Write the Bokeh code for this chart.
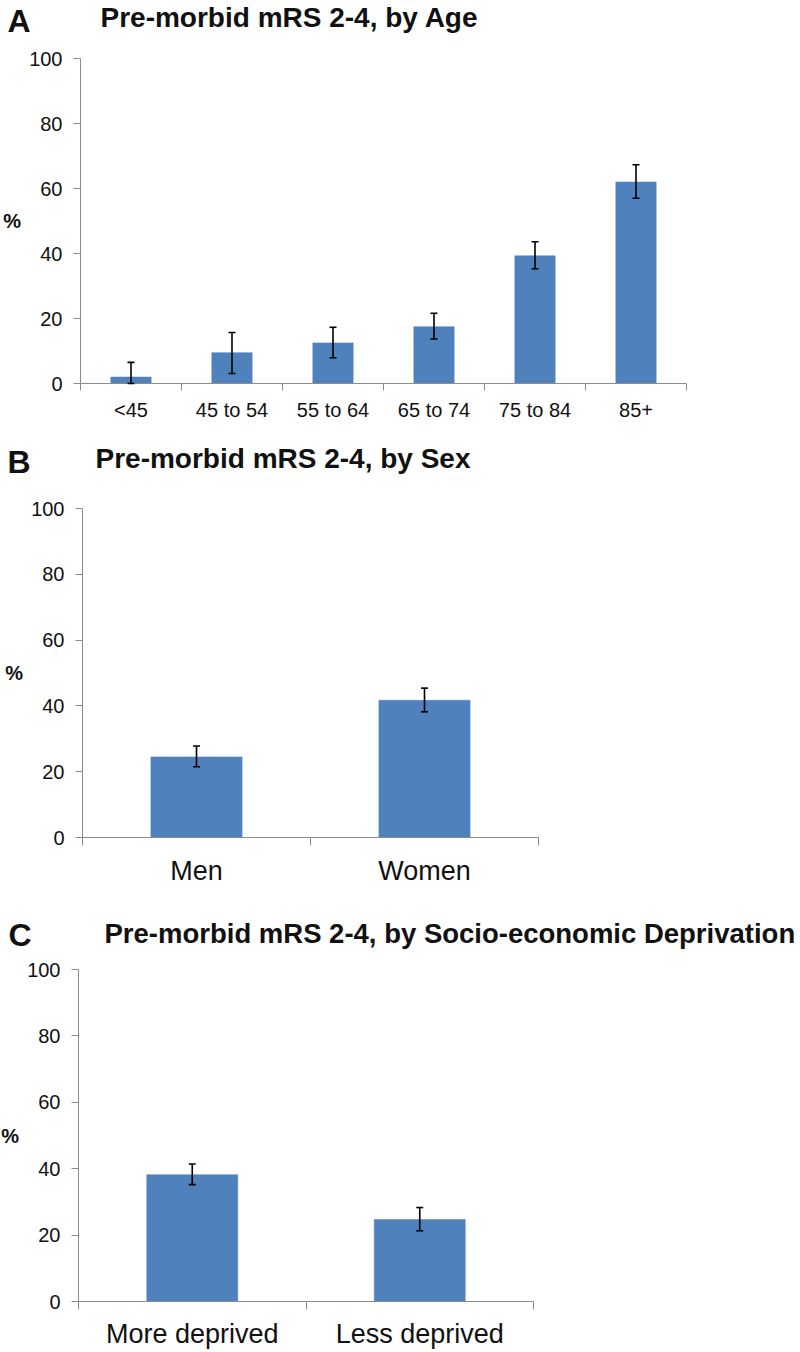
from bokeh.plotting import figure
from bokeh.models import (Range1d, FixedTicker, ColumnDataSource, Whisker, TeeHead, Label)
from bokeh.layouts import column
from bokeh.embed import file_html
from bokeh.resources import INLINE

# ---- data ----
age_groups = ["<45", "45 to 54", "55 to 64", "65 to 74", "75 to 84", "85+"]
age_pct = [2.0, 9.5, 12.5, 17.5, 39.3, 62.0]
age_lo = [0.0, 3.1, 7.9, 13.7, 35.3, 57.0]
age_hi = [6.5, 15.7, 17.3, 21.6, 43.6, 67.3]

sex_groups = ["Men", "Women"]
sex_pct = [24.5, 41.7]
sex_lo = [21.5, 38.2]
sex_hi = [27.8, 45.4]

dep_groups = ["More deprived", "Less deprived"]
dep_pct = [38.2, 24.7]
dep_lo = [35.2, 21.3]
dep_hi = [41.4, 28.3]

y_ticks = [0, 20, 40, 60, 80, 100]

FONT = "Liberation Sans"
BAR = "#4F81BD"
AXIS = "#8C8C8C"
TXT = "#111111"
W = 800


def panel(letter, title, cats, pct, lo, hi, *, h, fl, fr, py100, py0,
          xlab_size, xlab_standoff, xtick_len, letter_xy, title_xy, title_size):
    n = len(cats)
    centers = [i + 0.5 for i in range(n)]
    bounds = [float(i) for i in range(n + 1)]
    cw = (fr - fl) / n
    ppu = (py0 - py100) / 100.0
    xr = Range1d(-fl / cw, n + (W - fr) / cw)
    yr = Range1d(-(h - py0) / ppu, 100 + py100 / ppu)
    p = figure(width=W, height=h, output_backend="svg", toolbar_location=None,
               x_range=xr, y_range=yr,
               min_border=0, min_border_left=0, min_border_right=0,
               min_border_top=0, min_border_bottom=0)
    p.outline_line_color = None
    p.xgrid.visible = False
    p.ygrid.visible = False
    p.background_fill_color = "white"
    p.border_fill_color = "white"

    src = ColumnDataSource(dict(x=centers, top=pct, lo=lo, hi=hi, cat=cats))
    p.vbar(x="x", top="top", bottom=0, width=0.4, source=src,
           fill_color=BAR, line_color=BAR, line_width=0.5)
    w = Whisker(source=src, base="x", upper="hi", lower="lo",
                line_color="black", line_width=1.6, level="overlay",
                upper_head=TeeHead(size=7, line_color="black", line_width=1.6),
                lower_head=TeeHead(size=7, line_color="black", line_width=1.6))
    p.add_layout(w)

    # y axis (fixed at x = 0)
    ya = p.yaxis[0]
    ya.fixed_location = 0
    ya.bounds = (0, 100)
    ya.ticker = FixedTicker(ticks=y_ticks, minor_ticks=[])
    ya.axis_line_color = AXIS
    ya.major_tick_line_color = AXIS
    ya.major_tick_out = 7
    ya.major_tick_in = 0
    ya.minor_tick_line_color = None
    ya.major_label_text_font = FONT
    ya.major_label_text_font_size = "20px"
    ya.major_label_text_color = TXT
    ya.major_label_standoff = 11
    ya.axis_label = "%"
    ya.axis_label_orientation = "horizontal"
    ya.axis_label_text_font = FONT
    ya.axis_label_text_font_style = "bold"
    ya.axis_label_text_font_size = "20px"
    ya.axis_label_text_color = TXT
    ya.axis_label_standoff = 5

    # x axis (fixed at y = 0)
    xa = p.xaxis[0]
    xa.fixed_location = 0
    xa.bounds = (0, n)
    xa.ticker = FixedTicker(ticks=centers, minor_ticks=bounds)
    xa.major_label_overrides = {c: name for c, name in zip(centers, cats)}
    xa.axis_line_color = AXIS
    xa.major_tick_line_color = None
    xa.major_tick_out = 0
    xa.major_tick_in = 0
    xa.minor_tick_line_color = AXIS
    xa.minor_tick_out = xtick_len
    xa.minor_tick_in = 0
    xa.major_label_text_font = FONT
    xa.major_label_text_font_size = xlab_size
    xa.major_label_text_color = TXT
    xa.major_label_standoff = xlab_standoff

    p.add_layout(Label(x=letter_xy[0], y=h - letter_xy[1], x_units="screen", y_units="screen",
                       text=letter, text_font=FONT, text_font_style="bold",
                       text_font_size="32px", text_color=TXT,
                       text_baseline="alphabetic"))
    p.add_layout(Label(x=title_xy[0], y=h - title_xy[1], x_units="screen", y_units="screen",
                       text=title, text_font=FONT, text_font_style="bold",
                       text_font_size=title_size, text_color=TXT,
                       text_baseline="alphabetic"))
    return p


pA = panel("A", "Pre-morbid mRS 2-4, by Age", age_groups, age_pct, age_lo, age_hi,
           h=440, fl=80, fr=686, py100=58, py0=383,
           xlab_size="20px", xlab_standoff=8, xtick_len=7,
           letter_xy=(7, 20), title_xy=(100, 17), title_size="28px")
pB = panel("B", "Pre-morbid mRS 2-4, by Sex", sex_groups, sex_pct, sex_lo, sex_hi,
           h=450, fl=82, fr=538, py100=68, py0=397,
           xlab_size="27px", xlab_standoff=10, xtick_len=8,
           letter_xy=(7, 21), title_xy=(95, 18), title_size="28px")
pC = panel("C", "Pre-morbid mRS 2-4, by Socio-economic Deprivation", dep_groups, dep_pct, dep_lo, dep_hi,
           h=462, fl=78, fr=533, py100=79, py0=411,
           xlab_size="27px", xlab_standoff=9, xtick_len=8,
           letter_xy=(8, 44), title_xy=(104, 43), title_size="27.5px")

layout = column(pA, pB, pC, spacing=0)
open("out.html", "w").write(file_html(layout, INLINE))
